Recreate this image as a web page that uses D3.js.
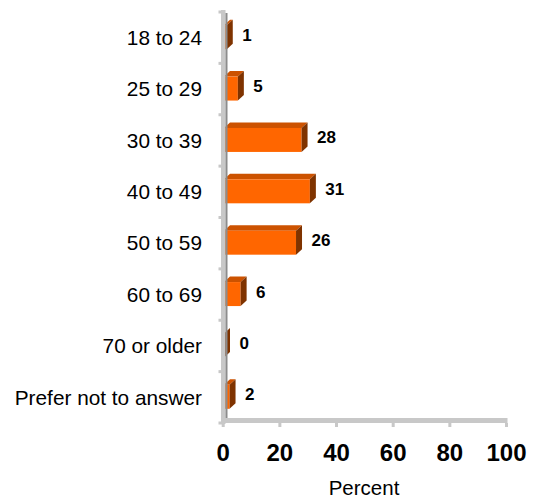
<!DOCTYPE html>
<html>
<head>
<meta charset="utf-8">
<script src="https://cdn.jsdelivr.net/npm/d3@7/dist/d3.min.js"></script>
<style>
  html, body { margin: 0; padding: 0; background: #fff; }
  svg { display: block; }
  text { font-family: Arial, "Liberation Sans", Helvetica, sans-serif; }
</style>
</head>
<body>
<svg id="chart" width="534" height="503"></svg>
<script>
// Age groups of respondents, percent of total
const categories = ["18 to 24", "25 to 29", "30 to 39", "40 to 49", "50 to 59", "60 to 69", "70 or older", "Prefer not to answer"];
const percents = [1, 5, 28, 31, 26, 6, 0, 2];
const tickValues = [0, 20, 40, 60, 80, 100];
const axisTitle = "Percent";

const svg = d3.select("#chart");

// Bars sit slightly behind the floor plane, so their scale is a touch
// narrower than the one used for the floor ticks.
const xBar = d3.scaleLinear().domain([0, 100]).range([224, 501]);
const xAxis = d3.scaleLinear().domain([0, 100]).range([222.7, 506]);
const y = d3.scaleBand().domain(categories).range([12, 423]);

const depthX = 6, depthY = -5.5;
const barH = 24;

const frontFill = "#ff6600", topFill = "#cc5200", sideFill = "#7f3300";

const rows = categories.map((c, i) => ({ c, v: percents[i] }));

// bars with 3D faces
const bars = svg.append("g").selectAll("g")
  .data(rows)
  .join("g");

bars.each(function (d) {
  const g = d3.select(this);
  const x0 = xBar(0), x1 = xBar(d.v);
  const yt = y(d.c) + y.bandwidth() / 2 - 0.5 - barH / 2;
  const yb = yt + barH;
  // top face
  g.append("path")
    .attr("d", `M${x0},${yt}L${x0 + depthX},${yt + depthY}L${x1 + depthX},${yt + depthY}L${x1},${yt}Z`)
    .attr("fill", topFill);
  // front face
  g.append("rect")
    .attr("x", x0).attr("y", yt)
    .attr("width", x1 - x0).attr("height", barH)
    .attr("fill", frontFill);
  // side face
  g.append("path")
    .attr("d", `M${x1},${yt}L${x1 + depthX},${yt + depthY}L${x1 + depthX},${yb + depthY}L${x1},${yb}Z`)
    .attr("fill", sideFill);
});

// wall (vertical axis) drawn over the bar roots
const wall = svg.append("g");
wall.append("rect").attr("x", 221).attr("y", 10).attr("width", 4.5).attr("height", 414).attr("fill", "#c8c8c8");
wall.append("rect").attr("x", 225.5).attr("y", 13).attr("width", 2).attr("height", 405).attr("fill", "#8c8c8c");
// category boundary stubs on the wall
const bounds = categories.map(c => y(c)).concat([y.range()[1]]);
wall.selectAll(".stub").data(bounds).join("rect")
  .attr("x", 218.5).attr("y", d => d - 1.5).attr("width", 4).attr("height", 3).attr("fill", "#c8c8c8");

// floor with value ticks
const floor = svg.append("g");
floor.append("rect").attr("x", 221).attr("y", 418).attr("width", xAxis(100) - 221 + 1.5).attr("height", 5).attr("fill", "#c8c8c8");

const axisG = svg.append("g").attr("transform", "translate(0,423)")
  .call(d3.axisBottom(xAxis).tickValues(tickValues).tickSize(4).tickPadding(17).tickFormat(d3.format("d")));
axisG.select(".domain").remove();
axisG.selectAll(".tick line").attr("stroke", "#c8c8c8").attr("stroke-width", 3);
axisG.selectAll(".tick text")
  .attr("font-family", "Arial, 'Liberation Sans', sans-serif")
  .attr("font-size", 24).attr("font-weight", "bold").attr("fill", "#000");

// category labels
svg.append("g").selectAll("text").data(categories).join("text")
  .attr("x", 202)
  .attr("y", d => y(d) + y.bandwidth() / 2)
  .attr("dy", "0.35em")
  .attr("text-anchor", "end")
  .attr("font-size", 20.8)
  .attr("fill", "#000")
  .text(d => d);

// value labels
svg.append("g").selectAll("text").data(rows).join("text")
  .attr("x", d => xBar(d.v) + 15.5)
  .attr("y", d => y(d.c) + y.bandwidth() / 2 - 3)
  .attr("dy", "0.35em")
  .attr("font-size", 17)
  .attr("font-weight", "bold")
  .attr("fill", "#000")
  .text(d => d.v);

// axis title
svg.append("text")
  .attr("x", 364).attr("y", 495)
  .attr("text-anchor", "middle")
  .attr("font-size", 20.5)
  .attr("fill", "#000")
  .text(axisTitle);
</script>
</body>
</html>
